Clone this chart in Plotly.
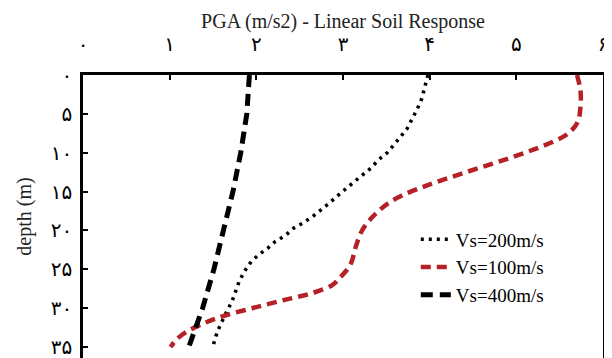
import plotly.graph_objects as go

# depth (m) and PGA (m/s2)
depth_200 = [0, 1.5, 3, 4.3, 5.6, 6.9, 8, 9, 10, 10.9, 12, 12.9, 13.7, 14.6, 15.6, 16.5,
             17.4, 18.2, 19.1, 19.7, 20.6, 21.4, 22.3, 23.1, 24, 25.3, 26.6, 29.1, 30.6,
             31.9, 33, 34.5, 35]
pga_200 = [3.98, 3.95, 3.91, 3.86, 3.80, 3.74, 3.66, 3.59, 3.51, 3.41, 3.32, 3.22, 3.13,
           3.03, 2.93, 2.84, 2.74, 2.65, 2.53, 2.43, 2.34, 2.22, 2.13, 2.03, 1.94, 1.86,
           1.80, 1.72, 1.65, 1.59, 1.55, 1.51, 1.50]

depth_100 = [0, 2, 4, 6, 7.5, 8.5, 9.5, 10.5, 11.5, 12.5, 13.5, 14.5, 15.5, 16.5, 17.5,
             18.5, 20, 22, 24, 25, 26, 27, 28, 29, 30, 31, 32, 33, 34, 35]
pga_100 = [5.70, 5.74, 5.74, 5.71, 5.60, 5.44, 5.22, 4.97, 4.70, 4.42, 4.15, 3.90, 3.68,
           3.52, 3.41, 3.32, 3.22, 3.15, 3.10, 3.05, 2.97, 2.88, 2.66, 2.30, 1.95, 1.62,
           1.38, 1.20, 1.08, 1.01]

depth_400 = [0, 5, 10, 15, 20, 25, 30, 35]
pga_400 = [1.92, 1.89, 1.82, 1.73, 1.62, 1.51, 1.38, 1.22]

x_ticks = [0, 1, 2, 3, 4, 5, 6]
x_labels = ["۰", "۱", "۲", "۳", "۴", "۵", "۶"]
y_ticks = [0, 5, 10, 15, 20, 25, 30, 35]
y_labels = ["۰", "۵", "۱۰", "۱۵", "۲۰", "۲۵", "۳۰", "۳۵"]

serif = "Liberation Serif, Times New Roman, serif"
digits = "DejaVu Serif, DejaVu Sans, serif"

fig = go.Figure()
fig.add_trace(go.Scatter(x=pga_200, y=depth_200, mode="lines", name="Vs=200m/s",
                         line=dict(color="black", width=3.5, dash="3px,5px")))
fig.add_trace(go.Scatter(x=pga_100, y=depth_100, mode="lines", name="Vs=100m/s",
                         line=dict(color="#b52127", width=4.5, dash="10px,6px", shape="spline")))
fig.add_trace(go.Scatter(x=pga_400, y=depth_400, mode="lines", name="Vs=400m/s",
                         line=dict(color="black", width=5, dash="12px,7px")))

# page body has an 8px margin, so the figure is sized to fill the rest of the window
fig.update_layout(
    width=604, height=350,
    margin=dict(l=75, r=9, t=67, b=0),
    plot_bgcolor="white", paper_bgcolor="white",
    title=dict(text="PGA (m/s2) - Linear Soil Response", x=0.5, xref="paper",
               y=1 - 13 / 350, yanchor="middle", font=dict(family=serif, size=20, color="#222")),
    legend=dict(x=0.64, y=0.486, xanchor="left", yanchor="top", bgcolor="rgba(0,0,0,0)",
                font=dict(family=serif, size=19, color="black"), tracegroupgap=0),
    showlegend=True,
)
fig.update_xaxes(
    side="top", range=[0, 6], tickvals=x_ticks, ticktext=x_labels,
    ticks="inside", ticklen=5, tickwidth=1.5, tickcolor="black",
    showline=True, linecolor="black", linewidth=2.5, mirror=False,
    showgrid=False, zeroline=False, ticklabelstandoff=13,
    tickfont=dict(family=digits, size=20, color="black"),
    ticklabeloverflow="allow", automargin=False,
)
fig.update_yaxes(
    range=[36.4, 0], tickvals=y_ticks, ticktext=y_labels,
    ticks="inside", ticklen=5, tickwidth=1.5, tickcolor="black",
    showline=True, linecolor="black", linewidth=2.5, mirror=True,
    showgrid=False, zeroline=False, ticklabelstandoff=4,
    tickfont=dict(family=digits, size=20, color="black"),
    ticklabeloverflow="allow",
    title=dict(text="depth (m)", font=dict(family=serif, size=20, color="#222"), standoff=14),
    automargin=False,
)

fig.write_html("out.html")
